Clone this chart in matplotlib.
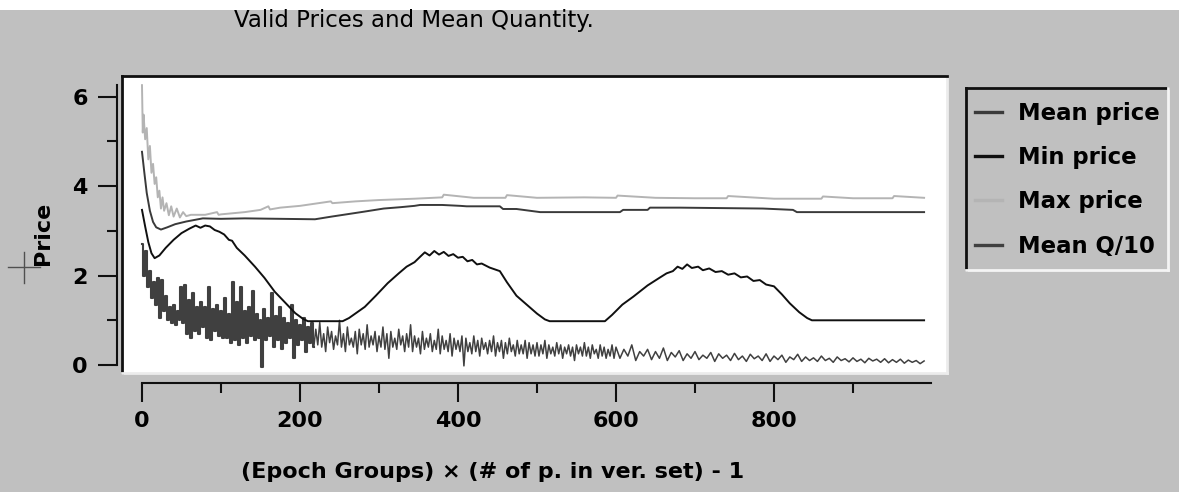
import numpy as np
import matplotlib.pyplot as plt
from matplotlib.lines import Line2D
from matplotlib.patches import Rectangle

# ---- data -------------------------------------------------------------
# min price (x in epoch groups, y in price units)
min_x = [0, 4, 8, 12, 16, 22, 30, 40, 50, 60, 68, 74, 80, 86, 92, 98, 104, 110,
         114, 120, 130, 143, 155, 168, 181, 194, 204, 210, 254, 262, 282, 296,
         311, 325, 335, 345, 352, 358, 364, 370, 376, 382, 388, 394, 400, 406,
         412, 418, 424, 430, 440, 453, 462, 474, 487, 500, 510, 516, 586, 595,
         608, 622, 640, 655, 664, 672, 678, 684, 690, 696, 704, 710, 718, 726,
         734, 742, 750, 758, 766, 774, 782, 790, 800, 810, 820, 832, 842, 848, 990]
min_y = [3.47, 3.10, 2.75, 2.50, 2.39, 2.45, 2.62, 2.80, 2.95, 3.05, 3.12, 3.07,
         3.12, 3.10, 3.02, 2.98, 2.92, 2.80, 2.78, 2.62, 2.45, 2.20, 1.95, 1.64,
         1.40, 1.16, 1.03, 0.98, 0.98, 1.05, 1.30, 1.55, 1.83, 2.05, 2.20, 2.30,
         2.42, 2.52, 2.45, 2.55, 2.47, 2.53, 2.44, 2.48, 2.40, 2.42, 2.32, 2.35,
         2.25, 2.27, 2.18, 2.10, 1.85, 1.55, 1.35, 1.15, 1.02, 0.98, 0.98, 1.12,
         1.35, 1.53, 1.78, 1.95, 2.05, 2.10, 2.20, 2.15, 2.25, 2.17, 2.20, 2.12,
         2.16, 2.08, 2.10, 2.02, 2.05, 1.96, 1.98, 1.88, 1.90, 1.80, 1.76, 1.58,
         1.38, 1.18, 1.05, 1.00, 1.00]

# mean price
mean_x = [0, 3, 6, 10, 14, 18, 24, 32, 42, 56, 77, 100, 130, 175, 219, 240, 255,
          281, 306, 327, 345, 352, 380, 403, 411, 453, 457, 474, 504, 605, 609,
          640, 643, 681, 786, 824, 829, 990]
mean_y = [4.77, 4.30, 3.85, 3.45, 3.20, 3.08, 3.03, 3.08, 3.15, 3.21, 3.28, 3.27,
          3.28, 3.27, 3.26, 3.32, 3.36, 3.43, 3.50, 3.53, 3.56, 3.58, 3.58, 3.56,
          3.55, 3.55, 3.49, 3.49, 3.42, 3.42, 3.47, 3.47, 3.52, 3.52, 3.50, 3.47,
          3.42, 3.42]

# max price
max_x = [0, 1, 2, 4, 6, 8, 10, 12, 14, 16, 18, 20, 22, 24, 26, 28, 31, 34, 37, 40,
         44, 48, 52, 56, 62, 80, 95, 97, 100, 112, 130, 150, 160, 162, 175, 200,
         239, 241, 270, 300, 345, 380, 382, 420, 460, 462, 500, 560, 600, 602, 650,
         700, 740, 742, 800, 860, 862, 900, 950, 952, 990]
max_y = [6.26, 5.20, 5.60, 5.05, 5.30, 4.60, 4.90, 4.30, 4.50, 4.05, 4.20, 3.75,
         3.90, 3.50, 3.75, 3.45, 3.62, 3.35, 3.55, 3.32, 3.50, 3.30, 3.42, 3.33,
         3.36, 3.36, 3.42, 3.36, 3.37, 3.39, 3.42, 3.47, 3.55, 3.48, 3.52, 3.56,
         3.66, 3.62, 3.66, 3.69, 3.72, 3.75, 3.81, 3.74, 3.74, 3.80, 3.74, 3.75,
         3.74, 3.79, 3.74, 3.73, 3.73, 3.78, 3.72, 3.72, 3.77, 3.73, 3.73, 3.78, 3.74]

# mean quantity / 10: groups 0-217.5 and 220-597.5 every 2.5, then 600-990 every 5
q_early = [2.70, 2.00, 2.55, 1.75, 2.10, 1.50, 1.85, 1.35, 1.95, 1.05, 1.90, 1.20,
           1.55, 1.00, 1.30, 0.95, 1.35, 0.90, 1.20, 1.00, 1.75, 0.95, 1.80, 0.70,
           1.45, 0.60, 1.60, 0.75, 1.30, 0.70, 1.40, 0.85, 1.30, 0.60, 1.75, 0.55,
           1.25, 0.75, 1.35, 0.65, 1.20, 0.60, 1.50, 0.60, 1.15, 0.50, 1.85, 0.55,
           1.40, 0.45, 1.75, 0.60, 1.20, 0.50, 1.30, 0.65, 1.65, 0.55, 1.15, 0.60,
           1.00, -0.04, 1.25, 0.55, 1.05, 0.65, 1.60, 0.40, 1.10, 0.55, 1.30, 0.35,
           1.05, 0.50, 0.95, 0.60, 1.35, 0.15, 1.00, 0.45, 0.90, 0.55, 1.05, 0.30,
           0.85, 0.50, 0.95, 0.40]
q_mid = [0.80, 0.45, 0.95, 0.40, 0.70, 0.30, 0.85, 0.50,
         0.75, 0.35, 0.65, 0.45, 1.00, 0.40, 0.70, 0.30,
         0.85, 0.45, 0.60, 0.40, 0.75, 0.25, 0.80, 0.45,
         0.70, 0.35, 0.90, 0.40, 0.65, 0.45, 0.75, 0.30,
         0.65, 0.40, 0.85, 0.35, 0.70, 0.15, 0.75, 0.40,
         0.60, 0.35, 0.80, 0.45, 0.65, 0.30, 0.70, 0.40,
         0.90, 0.30, 0.65, 0.40, 0.60, 0.25, 0.75, 0.35,
         0.60, 0.40, 0.70, 0.30, 0.55, 0.35, 0.80, 0.25,
         0.65, 0.35, 0.55, 0.30, 0.70, 0.20, 0.60, 0.35,
         0.55, 0.30, 0.65, -0.02, 0.60, 0.30, 0.50, 0.25,
         0.65, 0.30, 0.55, 0.20, 0.60, 0.35, 0.50, 0.25,
         0.55, 0.30, 0.65, 0.20, 0.50, 0.30, 0.55, 0.15,
         0.50, 0.25, 0.60, 0.30, 0.45, 0.20, 0.55, 0.25,
         0.45, 0.25, 0.55, 0.15, 0.50, 0.25, 0.45, 0.20,
         0.50, 0.20, 0.45, 0.25, 0.55, 0.15, 0.45, 0.25,
         0.40, 0.20, 0.50, 0.25, 0.45, 0.15, 0.40, 0.25,
         0.45, 0.20, 0.40, 0.10, 0.45, 0.25, 0.40, 0.20,
         0.50, 0.20, 0.40, 0.15, 0.45, 0.25, 0.35, 0.15,
         0.45, 0.20, 0.40, 0.15, 0.35, 0.20, 0.45, 0.15]
q_late = [0.40, 0.15, 0.35, 0.20, 0.45, 0.10, 0.30, 0.20, 0.35, 0.12,
          0.30, 0.15, 0.38, 0.10, 0.28, 0.18, 0.32, 0.10, 0.25, 0.15,
          0.30, 0.12, 0.22, 0.15, 0.28, 0.08, 0.25, 0.15, 0.22, 0.10,
          0.26, 0.12, 0.20, 0.08, 0.24, 0.14, 0.20, 0.10, 0.25, 0.08,
          0.20, 0.12, 0.22, 0.06, 0.18, 0.12, 0.24, 0.08, 0.18, 0.10,
          0.16, 0.08, 0.20, 0.10, 0.15, 0.06, 0.18, 0.10, 0.14, 0.07,
          0.16, 0.08, 0.13, 0.05, 0.15, 0.09, 0.13, 0.06, 0.14, 0.05,
          0.12, 0.06, 0.13, 0.04, 0.11, 0.06, 0.10, 0.03, 0.09]
q_early_x = np.arange(len(q_early)) * 2.5
q_tail_x = np.concatenate([220 + np.arange(len(q_mid)) * 2.5,
                           600 + np.arange(len(q_late)) * 5])
q_tail = q_mid + q_late

x_major = [0, 200, 400, 600, 800]
x_minor = [100, 300, 500, 700, 900]
y_major = [0, 2, 4, 6]
y_minor = [1, 3, 5]

# ---- figure -----------------------------------------------------------
W, H = 1179, 492
BG = '#c0c0c0'
fig = plt.figure(figsize=(W / 100, H / 100), dpi=100, facecolor=BG)


def fx(px):
    return px / W


def fy(py):
    return 1 - py / H


fig.add_artist(Rectangle((0, fy(10)), 1, 1 - fy(10), transform=fig.transFigure,
                         facecolor='white', edgecolor='none', zorder=0))

ax = fig.add_axes([fx(122), fy(373), fx(947) - fx(122), fy(76) - fy(373)])
ax.set_facecolor('white')
ax.set_xlim(-25.3, 1019)
ax.set_ylim(-0.179, 6.465)

Q_COLOR = '#404040'
lq, = ax.plot(q_early_x, q_early, color=Q_COLOR, lw=1.5, drawstyle='steps-mid',
              label='Mean Q/10')
ax.plot(np.r_[q_early_x[-1], q_tail_x], [q_early[-1]] + q_tail, color=Q_COLOR,
        lw=1.1)
lmin, = ax.plot(min_x, min_y, color='#101010', lw=1.4, label='Min price')
lmean, = ax.plot(mean_x, mean_y, color='#3a3a3a', lw=1.4, label='Mean price')
lmax, = ax.plot(max_x, max_y, color='#b4b4b4', lw=1.4, label='Max price')

# sunken frame around the plot area
ax.spines['top'].set_color('#101010')
ax.spines['top'].set_linewidth(2)
ax.spines['right'].set_color('#ececec')
ax.spines['right'].set_linewidth(2)
ax.add_line(Line2D([0, 0], [0, 1], transform=ax.transAxes, color='#101010',
                   lw=2, clip_on=False))
ax.add_line(Line2D([0, 1], [0, 0], transform=ax.transAxes, color='#ececec',
                   lw=2, clip_on=False))

# detached axis lines
for side, off in (('left', 3.6), ('bottom', 7.2)):
    sp = ax.spines[side]
    sp.set_position(('outward', off))
    sp.set_color('#101010')
    sp.set_linewidth(1.5)
ax.spines['left'].set_bounds(0, 6.26)
ax.spines['bottom'].set_bounds(0, 999)

ax.set_xticks(x_major)
ax.set_xticks(x_minor, minor=True)
ax.set_yticks(y_major)
ax.set_yticks(y_minor, minor=True)
tick_font = dict(family='DejaVu Sans', weight='bold', size=16)
ax.set_xticklabels([str(v) for v in x_major], **tick_font)
ax.set_yticklabels([str(v) for v in y_major], **tick_font)
ax.tick_params(which='major', direction='out', length=14, width=1.5,
               color='#101010')
ax.tick_params(which='minor', direction='out', length=7, width=1.5,
               color='#101010')
ax.tick_params(axis='x', which='major', pad=6)
ax.tick_params(axis='y', which='major', pad=7)

# titles
fig.text(fx(414), fy(20), 'Valid Prices and Mean Quantity.', ha='center',
         va='center', family='DejaVu Sans', size=16.5)
fig.text(fx(493), fy(472), '(Epoch Groups) \u00d7 (# of p. in ver. set) - 1',
         ha='center', va='center', family='DejaVu Sans', weight='bold', size=16)
fig.text(fx(43), fy(233), 'Price', ha='center', va='center', rotation=90,
         family='DejaVu Sans', weight='bold', size=16)

# mouse cursor cross
fig.add_artist(Line2D([fx(8), fx(40)], [fy(267), fy(267)], color='#505050', lw=1))
fig.add_artist(Line2D([fx(23.5), fx(23.5)], [fy(252), fy(283)], color='#505050', lw=1))

# legend with a raised frame
leg = ax.legend(handles=[lmean, lmin, lmax, lq], loc='upper left',
                bbox_to_anchor=(fx(975), fy(102)), bbox_transform=fig.transFigure,
                frameon=False, prop=dict(family='DejaVu Sans', weight='bold', size=16.4),
                handlelength=1.2, handletextpad=0.7, labelspacing=0.93,
                borderaxespad=0, borderpad=0)
for ln in leg.get_lines():
    ln.set_linewidth(2.4)
    ln.set_drawstyle('default')
dark, light = '#101010', '#f4f4f4'
fig.add_artist(Line2D([fx(966), fx(1168)], [fy(88), fy(88)], color=dark, lw=2))
fig.add_artist(Line2D([fx(966), fx(966)], [fy(88), fy(270)], color=dark, lw=2))
fig.add_artist(Line2D([fx(966), fx(1168)], [fy(270), fy(270)], color=light, lw=2))
fig.add_artist(Line2D([fx(1168), fx(1168)], [fy(88), fy(270)], color=light, lw=2))

fig.savefig('out.png', dpi=100, facecolor=BG)
